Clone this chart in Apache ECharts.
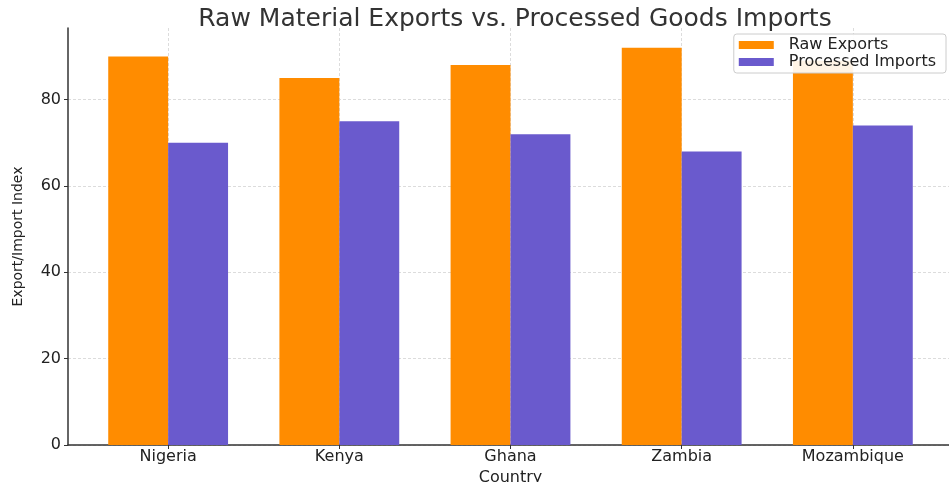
<!DOCTYPE html>
<html><head><meta charset="utf-8">
<script src="https://cdn.jsdelivr.net/npm/echarts@6/dist/echarts.min.js"></script>
<style>html,body{margin:0;padding:0;background:#fff}#c{width:949px;height:482px}</style>
</head><body><div id="c"></div>
<script>
const categories = ['Nigeria', 'Kenya', 'Ghana', 'Zambia', 'Mozambique'];
const rawExports = [90, 85, 88, 92, 89];
const processedImports = [70, 75, 72, 68, 74];
const yTicks = [0, 20, 40, 60, 80];
const seriesNames = ['Raw Exports', 'Processed Imports'];
const titleText = 'Raw Material Exports vs. Processed Goods Imports';
const xName = 'Country';
const yName = 'Export/Import Index';

const catIdx = categories.map((_, i) => i);
const font = 'DejaVu Sans';
const chart = echarts.init(document.getElementById('c'), null, {renderer: 'canvas'});
chart.setOption({
  animation: false,
  backgroundColor: '#fff',
  title: {
    text: titleText, left: 510, top: 2, textAlign: 'center',
    textStyle: {fontFamily: font, fontSize: 25, fontWeight: 'normal', color: '#333'}
  },
  legend: {
    orient: 'vertical', right: 3, top: 34,
    padding: [3, 10, 3, 5], itemGap: 1,
    itemWidth: 35, itemHeight: 8, icon: 'rect',
    backgroundColor: 'rgba(255,255,255,0.9)', borderColor: '#ccc', borderWidth: 1, borderRadius: 3,
    textStyle: {fontFamily: font, fontSize: 16, color: '#222', lineHeight: 16, padding: [0, 0, 0, 10]},
    data: seriesNames
  },
  grid: {left: 68, top: 28, right: -4, bottom: 37, outerBoundsMode: 'none', containLabel: false},
  xAxis: {
    type: 'value', min: -0.585, max: 4.585,
    name: xName, nameLocation: 'middle', nameGap: 19,
    nameTextStyle: {fontFamily: font, fontSize: 16, color: '#222'},
    axisLine: {show: true, onZero: false, lineStyle: {color: '#333', width: 1.5}},
    axisTick: {show: true, customValues: catIdx, length: 4, lineStyle: {color: '#333'}},
    axisLabel: {customValues: catIdx, formatter: v => categories[Math.round(v)] || '', margin: 4,
      fontFamily: font, fontSize: 16, color: '#222'},
    splitLine: {show: true, showMinLine: true, showMaxLine: true, lineStyle: {color: '#dcdcdc', type: [3, 2], width: 1}}
  },
  yAxis: {
    type: 'value', min: 0, max: 96.6, interval: 20,
    name: yName, nameLocation: 'middle', nameGap: 43,
    nameTextStyle: {fontFamily: font, fontSize: 14, color: '#222'},
    axisLine: {show: true, onZero: false, lineStyle: {color: '#333', width: 1.5}},
    axisTick: {show: true, customValues: yTicks, length: 4, lineStyle: {color: '#333'}},
    axisLabel: {customValues: yTicks, margin: 7, fontFamily: font, fontSize: 16, color: '#222'},
    splitLine: {show: true, showMinLine: true, showMaxLine: true, lineStyle: {color: '#dcdcdc', type: [3, 2], width: 1}}
  },
  series: [
    {type: 'bar', name: seriesNames[0], data: rawExports.map((v, i) => [i, v]),
      barWidth: '35%', barGap: '0%', itemStyle: {color: '#FF8C00'}},
    {type: 'bar', name: seriesNames[1], data: processedImports.map((v, i) => [i, v]),
      barWidth: '35%', barGap: '0%', itemStyle: {color: '#6A5ACD'}}
  ]
});
</script></body></html>
